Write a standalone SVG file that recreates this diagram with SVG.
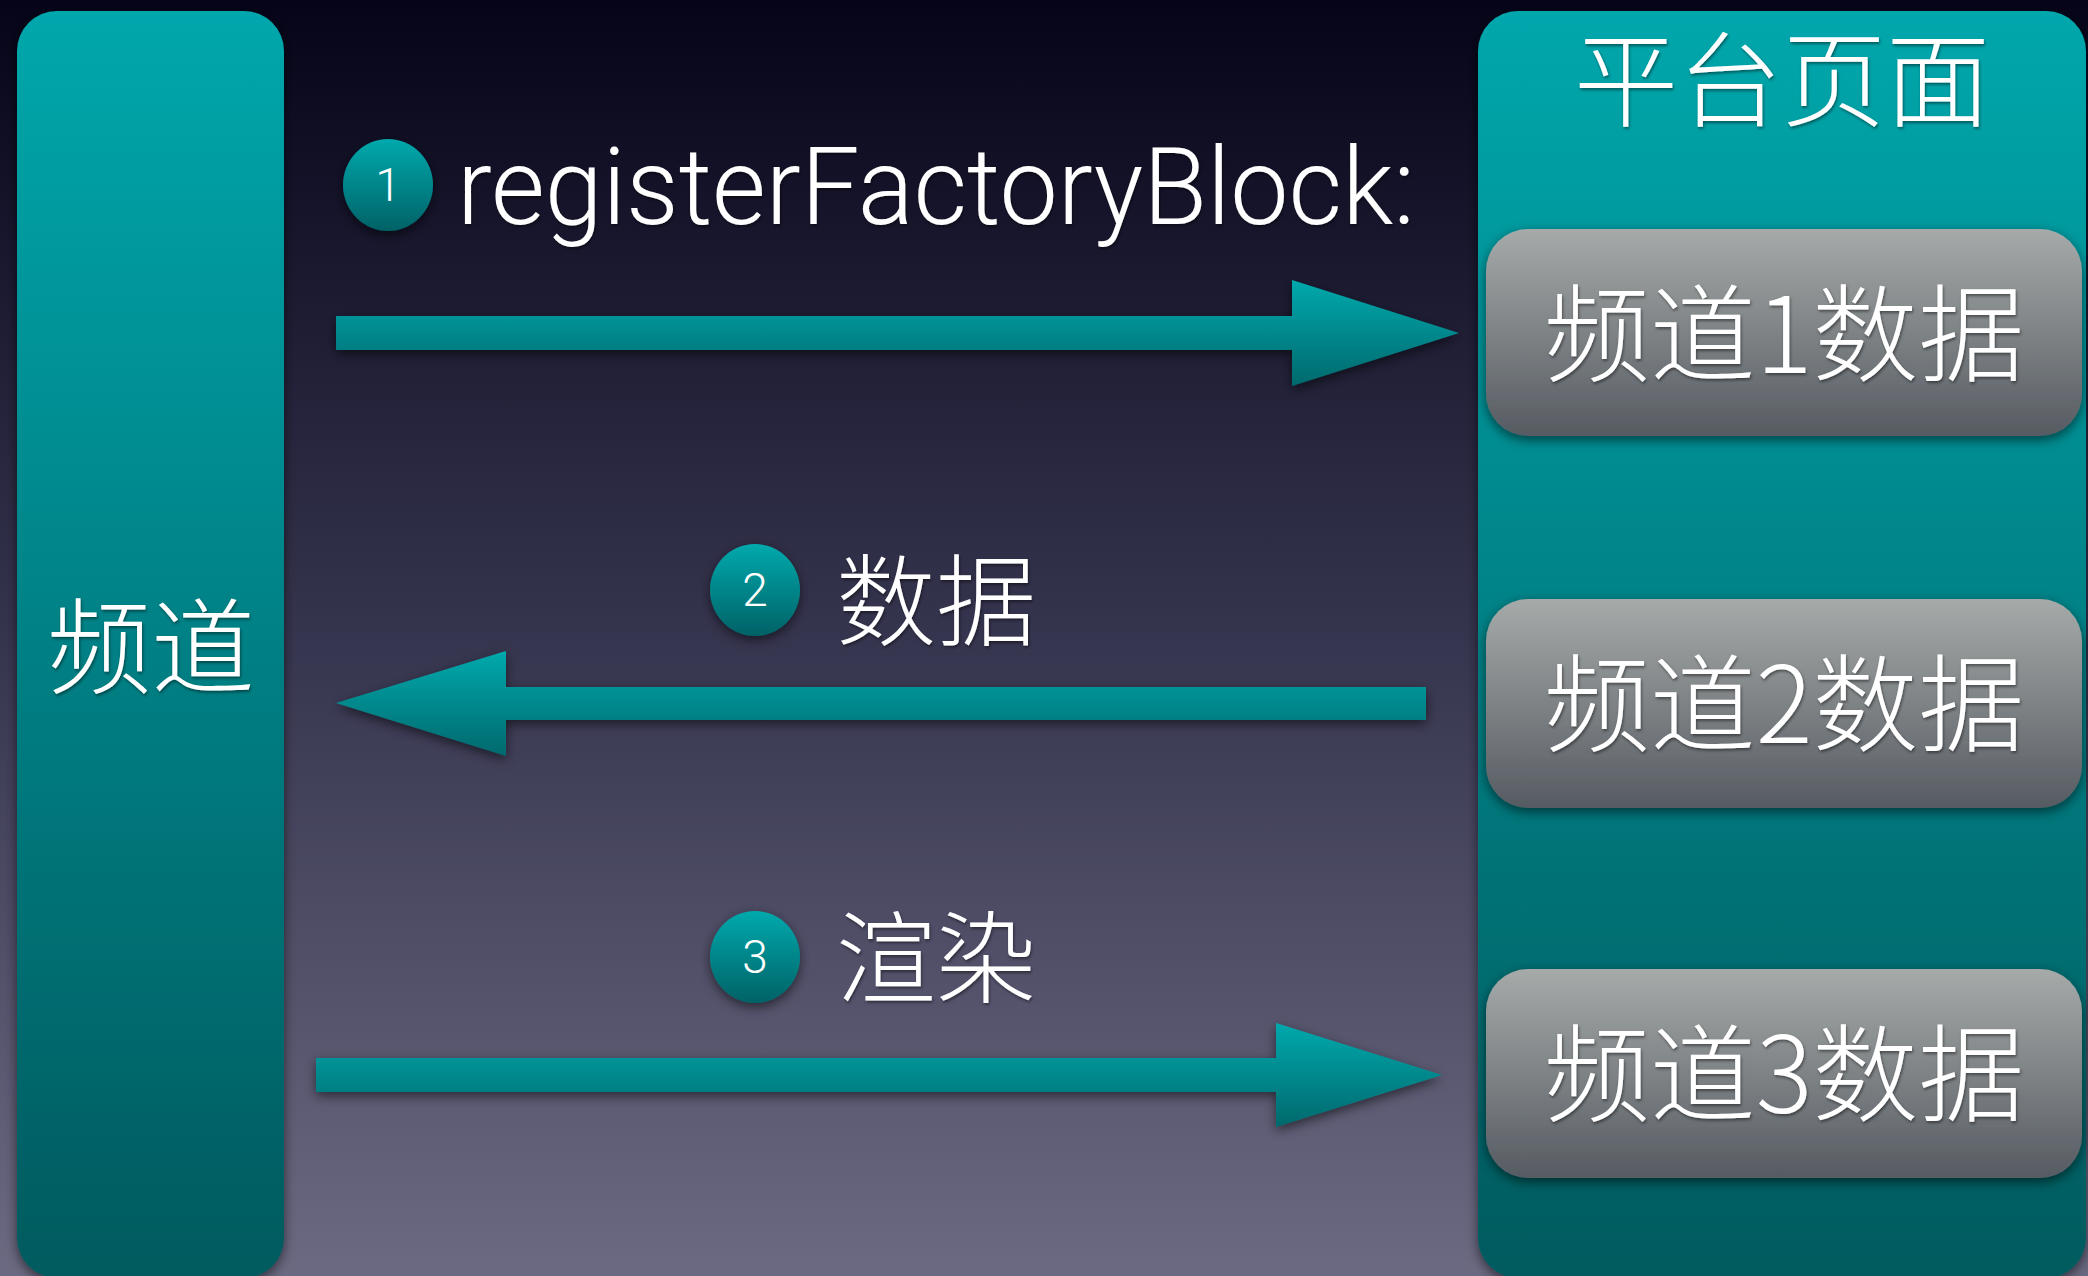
<svg xmlns="http://www.w3.org/2000/svg" width="2088" height="1276" viewBox="0 0 2088 1276">
<defs>
<linearGradient id="bg" x1="0" y1="0" x2="0" y2="1">
<stop offset="0" stop-color="#050418"/>
<stop offset="0.5" stop-color="#36354f"/>
<stop offset="1" stop-color="#6c6a82"/>
</linearGradient>
<linearGradient id="teal" x1="0" y1="0" x2="0" y2="1">
<stop offset="0" stop-color="#00a7ac"/>
<stop offset="1" stop-color="#005a5e"/>
</linearGradient>
<linearGradient id="arrow" x1="0" y1="0" x2="0" y2="1">
<stop offset="0" stop-color="#00a9ad"/>
<stop offset="1" stop-color="#00696d"/>
</linearGradient>
<linearGradient id="badge" x1="0" y1="0" x2="0" y2="1">
<stop offset="0" stop-color="#00a9ad"/>
<stop offset="1" stop-color="#006266"/>
</linearGradient>
<linearGradient id="gray" x1="0" y1="0" x2="0" y2="1">
<stop offset="0" stop-color="#a6aaa9"/>
<stop offset="1" stop-color="#565b62"/>
</linearGradient>
<filter id="sh" x="-10%" y="-10%" width="120%" height="130%">
<feDropShadow dx="0" dy="4" stdDeviation="6" flood-color="#000" flood-opacity="0.55"/>
</filter>
<filter id="tsh" x="-5%" y="-5%" width="110%" height="120%">
<feDropShadow dx="1" dy="2" stdDeviation="1.5" flood-color="#000" flood-opacity="0.45"/>
</filter>
</defs>
<style>
.cjk{font-family:"Noto Sans CJK SC","Noto Sans",sans-serif;font-weight:300;fill:#fff;text-anchor:middle}
.lat{font-family:Roboto,"Liberation Sans",sans-serif;font-weight:300;fill:#fff}
.num{font-family:Roboto,"Liberation Sans",sans-serif;font-weight:300;fill:#fff;text-anchor:middle;font-size:46px}
</style>
<rect x="0" y="0" width="2088" height="1276" fill="url(#bg)"/>

<g id="channel">
<rect x="17" y="11" width="267" height="1267" rx="40" fill="url(#teal)" filter="url(#sh)"/>
<text class="cjk" x="151" y="686" font-size="104" filter="url(#tsh)">频道</text>
</g>

<g id="platform">
<rect x="1478" y="11" width="608" height="1267" rx="40" fill="url(#teal)" filter="url(#sh)"/>
<text class="cjk" x="1782" y="119" font-size="104" filter="url(#tsh)">平台页面</text>
</g>

<g id="data1">
<rect x="1486" y="229" width="596" height="207" rx="42" fill="url(#gray)" filter="url(#sh)"/>
<text class="cjk" x="1784" y="373" font-size="106" filter="url(#tsh)">频道1数据</text>
</g>
<g id="data2">
<rect x="1486" y="599" width="596" height="209" rx="42" fill="url(#gray)" filter="url(#sh)"/>
<text class="cjk" x="1784" y="743" font-size="106" filter="url(#tsh)">频道2数据</text>
</g>
<g id="data3">
<rect x="1486" y="969" width="596" height="209" rx="42" fill="url(#gray)" filter="url(#sh)"/>
<text class="cjk" x="1784" y="1113" font-size="106" filter="url(#tsh)">频道3数据</text>
</g>

<g id="connectors" fill="url(#arrow)" filter="url(#sh)">
<polygon points="336,316 1292,316 1292,280 1459,333 1292,386 1292,350 336,350"/>
<polygon points="1426,687 506,687 506,651 336,703 506,756 506,720 1426,720"/>
<polygon points="316,1058 1276,1058 1276,1023 1442,1075 1276,1127 1276,1092 316,1092"/>
</g>

<g id="step1">
<ellipse cx="388" cy="185" rx="45" ry="46" fill="url(#badge)" filter="url(#sh)"/>
<text class="num" x="388" y="201">1</text>
<text class="lat" x="457" y="224" font-size="108" textLength="958" lengthAdjust="spacingAndGlyphs" filter="url(#tsh)">registerFactoryBlock:</text>
</g>
<g id="step2">
<ellipse cx="755" cy="590" rx="45" ry="46" fill="url(#badge)" filter="url(#sh)"/>
<text class="num" x="755" y="606">2</text>
<text class="cjk" x="936" y="638" font-size="100" filter="url(#tsh)">数据</text>
</g>
<g id="step3">
<ellipse cx="755" cy="957" rx="45" ry="46" fill="url(#badge)" filter="url(#sh)"/>
<text class="num" x="755" y="973">3</text>
<text class="cjk" x="936" y="995" font-size="100" filter="url(#tsh)">渲染</text>
</g>
</svg>
